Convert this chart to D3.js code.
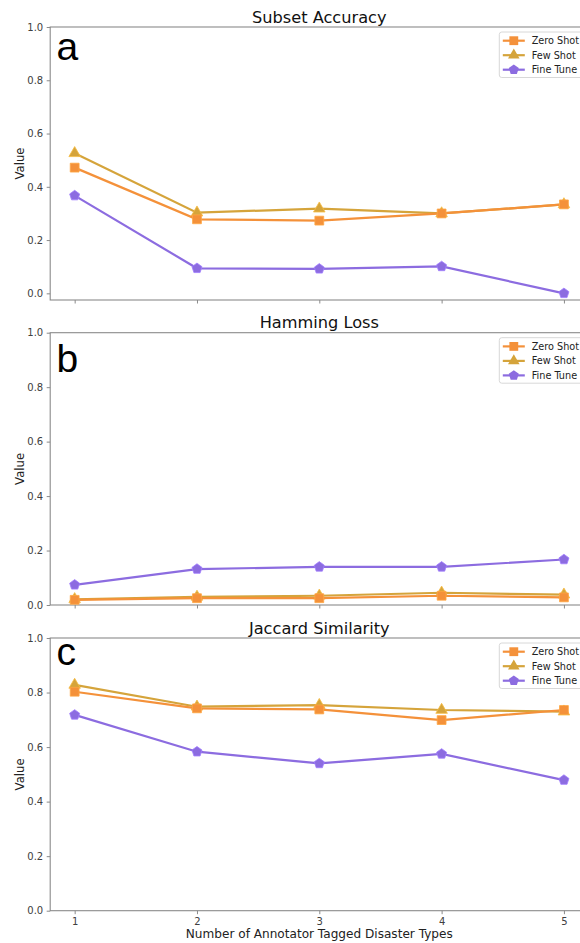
<!DOCTYPE html>
<html>
<head>
<meta charset="utf-8">
<script src="https://cdn.jsdelivr.net/npm/d3@7"></script>
<style>
  body { margin: 0; background: #fff; }
  svg { display: block; }
</style>
</head>
<body>
<div id="chart"></div>
<script>
// data
var annotators = [1, 2, 3, 4, 5]
var seriesNames = ["Zero Shot", "Few Shot", "Fine Tune"]
var panelTitles = ["Subset Accuracy", "Hamming Loss", "Jaccard Similarity"]
var panelLetters = ["a", "b", "c"]
var yTicks = [0, 0.2, 0.4, 0.6, 0.8, 1.0]

var subsetZero = [0.472, 0.278, 0.273, 0.300, 0.334]
var subsetFew  = [0.526, 0.303, 0.318, 0.300, 0.334]
var subsetFine = [0.367, 0.094, 0.092, 0.101, 0.000]

var hammingZero = [0.019, 0.025, 0.025, 0.034, 0.028]
var hammingFew  = [0.021, 0.030, 0.034, 0.045, 0.038]
var hammingFine = [0.074, 0.132, 0.140, 0.140, 0.167]

var jaccardZero = [0.803, 0.742, 0.738, 0.699, 0.736]
var jaccardFew  = [0.828, 0.748, 0.754, 0.736, 0.730]
var jaccardFine = [0.718, 0.583, 0.540, 0.575, 0.479]

var width = 580, height = 943

var colors = { "Zero Shot": "#f4913a", "Few Shot": "#d5a43b", "Fine Tune": "#8c6ce0" }

// pentagon marker like matplotlib "p"
var symbolPentagon = {
  draw: function (context, size) {
    var r = Math.sqrt(size / 2.378)
    for (var i = 0; i < 5; i++) {
      var a = -Math.PI / 2 + i * 2 * Math.PI / 5
      if (i === 0) context.moveTo(r * Math.cos(a), r * Math.sin(a))
      else context.lineTo(r * Math.cos(a), r * Math.sin(a))
    }
    context.closePath()
  }
}
var markers = {
  "Zero Shot": d3.symbol().type(d3.symbolSquare).size(78),
  "Few Shot": d3.symbol().type(d3.symbolTriangle).size(58),
  "Fine Tune": d3.symbol().type(symbolPentagon).size(66)
}

// panel layout (pixel boxes)
var panels = [
  { top: 27, bottom: 300, ymin: -0.025, letterY: 60,
    values: { "Zero Shot": subsetZero, "Few Shot": subsetFew, "Fine Tune": subsetFine } },
  { top: 332.7, bottom: 605, ymin: 0, letterY: 371.5,
    values: { "Zero Shot": hammingZero, "Few Shot": hammingFew, "Fine Tune": hammingFine } },
  { top: 638, bottom: 910.7, ymin: 0, letterY: 665,
    values: { "Zero Shot": jaccardZero, "Few Shot": jaccardFew, "Fine Tune": jaccardFine } }
]

var svg = d3.select("#chart").append("svg")
  .attr("width", width)
  .attr("height", height)

var scalex = d3.scaleLinear()
  .domain([0.8, 5.2])
  .range([50.2, 588.4])

var drawOrder = ["Fine Tune", "Few Shot", "Zero Shot"]

panels.forEach(function (p, pi) {
  var scaley = d3.scaleLinear()
    .domain([p.ymin, 1.0])
    .range([p.bottom, p.top])

  var g = svg.append("g")

  // frame
  g.append("rect")
    .attr("x", scalex.range()[0])
    .attr("y", p.top)
    .attr("width", scalex.range()[1] - scalex.range()[0])
    .attr("height", p.bottom - p.top)
    .attr("fill", "none")
    .attr("stroke", "#8a8a8a")
    .attr("stroke-width", 1.1)

  // y axis
  var ya = g.append("g")
    .attr("transform", "translate(" + scalex.range()[0] + ",0)")
    .call(d3.axisLeft(scaley).tickValues(yTicks).tickFormat(d3.format(".1f"))
      .tickSizeInner(3.5).tickSizeOuter(0).tickPadding(3.5))
  ya.select(".domain").remove()

  // x axis
  var xa = g.append("g")
    .attr("transform", "translate(0," + p.bottom + ")")
    .call(d3.axisBottom(scalex).tickValues(annotators).tickFormat(d3.format("d"))
      .tickSizeInner(3.5).tickSizeOuter(0).tickPadding(3.5))
  xa.select(".domain").remove()
  if (pi < panels.length - 1) xa.selectAll("text").remove()

  g.selectAll(".tick line").attr("stroke", "#8a8a8a").attr("stroke-width", 1)
  g.selectAll(".tick text")
    .attr("fill", "#404040")
    .style("font-family", "DejaVu Sans")
    .style("font-size", "10px")

  // y label
  g.append("text")
    .attr("transform", "translate(23.5," + ((p.top + p.bottom) / 2) + ") rotate(-90)")
    .attr("text-anchor", "middle")
    .style("font-family", "DejaVu Sans")
    .style("font-size", "11.7px")
    .attr("fill", "#222")
    .text("Value")

  // title
  g.append("text")
    .attr("x", 319.3)
    .attr("y", p.top - 4.5)
    .attr("text-anchor", "middle")
    .style("font-family", "DejaVu Sans")
    .style("font-size", "16.2px")
    .attr("fill", "#111")
    .text(panelTitles[pi])

  // panel letter
  g.append("text")
    .attr("x", 56.5)
    .attr("y", p.letterY)
    .style("font-family", "Liberation Sans, Arial")
    .style("font-size", "39px")
    .attr("fill", "#000")
    .text(panelLetters[pi])

  var linegenerator = d3.line()
    .x(function (d, i) { return scalex(annotators[i]) })
    .y(function (d) { return scaley(d) })

  drawOrder.forEach(function (name) {
    var vals = p.values[name]
    g.append("path")
      .attr("d", linegenerator(vals))
      .attr("stroke", colors[name])
      .attr("stroke-width", 2.2)
      .attr("fill", "none")

    g.selectAll(null).data(vals)
      .enter().append("path")
      .attr("d", markers[name]())
      .attr("transform", function (d, i) {
        return "translate(" + scalex(annotators[i]) + "," + scaley(d) + ")"
      })
      .attr("fill", colors[name])
      .attr("stroke", d3.color(colors[name]).brighter(0.4))
      .attr("stroke-width", 0.8)
  })

  // legend
  var lg = g.append("g")
    .attr("transform", "translate(499.3," + (p.top + 5) + ")")
  lg.append("rect")
    .attr("width", 84)
    .attr("height", 45.5)
    .attr("rx", 2.5)
    .attr("fill", "#fff")
    .attr("fill-opacity", 0.8)
    .attr("stroke", "#d8d8d8")
    .attr("stroke-width", 1)

  seriesNames.forEach(function (name, i) {
    var cy = 8.7 + i * 14.5
    lg.append("line")
      .attr("x1", 3.5).attr("x2", 25.5)
      .attr("y1", cy).attr("y2", cy)
      .attr("stroke", colors[name])
      .attr("stroke-width", 2.2)
    lg.append("path")
      .attr("d", markers[name]())
      .attr("transform", "translate(14.5," + cy + ")")
      .attr("fill", colors[name])
    lg.append("text")
      .attr("x", 32.4)
      .attr("y", cy)
      .attr("dy", "0.35em")
      .style("font-family", "DejaVu Sans")
      .style("font-size", "9.7px")
      .attr("fill", "#222")
      .text(name)
  })
})

// x label (shared)
svg.append("text")
  .attr("x", 319.3)
  .attr("y", 938)
  .attr("text-anchor", "middle")
  .style("font-family", "DejaVu Sans")
  .style("font-size", "12.1px")
  .attr("fill", "#222")
  .text("Number of Annotator Tagged Disaster Types")
</script>
</body>
</html>
